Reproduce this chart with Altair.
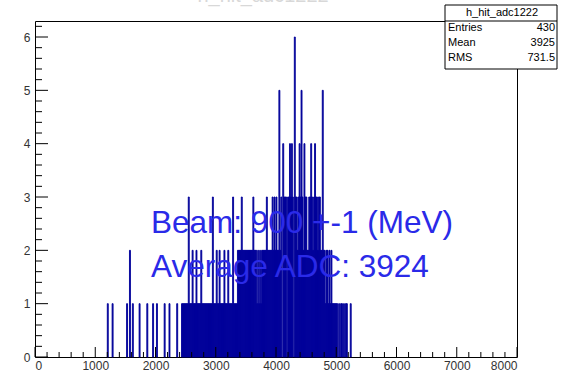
import altair as alt
import pandas as pd

# ---- data ----
bin_width = 16
first_bin = 74
counts = [
    0, 1, 0, 0, 0, 0, 1, 0, 0, 0, 0, 0, 0, 0, 0, 0,
    0, 0, 0, 0, 0, 1, 0, 0, 2, 0, 0, 1, 0, 0, 0, 0,
    0, 0, 1, 0, 0, 0, 0, 0, 0, 0, 1, 0, 0, 0, 0, 0,
    1, 0, 0, 0, 1, 0, 0, 0, 0, 0, 0, 0, 1, 0, 0, 0,
    0, 1, 0, 0, 0, 0, 0, 0, 0, 1, 0, 0, 0, 0, 1, 1,
    1, 1, 1, 1, 1, 3, 1, 1, 1, 2, 1, 1, 1, 2, 1, 1,
    1, 1, 2, 1, 1, 1, 1, 1, 1, 1, 1, 1, 1, 1, 3, 1,
    1, 1, 2, 1, 1, 2, 1, 1, 1, 1, 2, 1, 1, 1, 2, 1,
    1, 1, 1, 3, 1, 1, 1, 1, 2, 2, 2, 2, 3, 2, 2, 2,
    2, 2, 2, 2, 2, 2, 2, 2, 3, 2, 2, 2, 1, 2, 1, 2,
    1, 2, 2, 2, 2, 2, 3, 2, 2, 2, 2, 2, 3, 2, 3, 2,
    3, 2, 2, 5, 2, 3, 0, 4, 3, 3, 3, 0, 3, 3, 4, 3,
    4, 3, 0, 6, 3, 3, 2, 3, 4, 3, 5, 3, 2, 4, 3, 3,
    2, 2, 3, 3, 4, 3, 2, 3, 4, 3, 3, 2, 3, 3, 2, 2,
    5, 2, 2, 1, 2, 2, 1, 2, 1, 2, 1, 1, 1, 1, 1, 1,
    0, 1, 0, 1, 1, 0, 1, 0, 1, 1, 0, 0, 0, 1, 0, 0,
]
x_labels = [0, 1000, 2000, 3000, 4000, 5000, 6000, 7000, 8000]
y_labels = [0, 1, 2, 3, 4, 5, 6]
x_minor_ticks = [v for v in range(0, 8001, 200) if v % 1000]
y_minor_ticks = [round(k * 0.2, 1) for k in range(0, 32) if k % 5]
hist_name = "h_hit_adc1222"
stats_names = ["Entries", "Mean", "RMS"]
stats_values = ["430", "3925", "731.5"]
text_lines = ["Beam: 900 +-1 (MeV)", "Average ADC: 3924"]

# ---- tables ----
lo = [(first_bin + k) * bin_width for k in range(len(counts))]
hist = pd.DataFrame({"lo": lo, "hi": [v + bin_width for v in lo], "count": counts})
hist = hist[hist["count"] > 0]

FONT = "Liberation Sans"
BAR = "#00009a"
TXT = "#2a2ae8"

xs = alt.Scale(domain=[0, 8000], nice=False, zero=False)
ys = alt.Scale(domain=[0, 6.3], nice=False, zero=False)

bars = alt.Chart(hist).mark_bar(color=BAR, stroke=BAR, strokeWidth=0.9).encode(
    x=alt.X("lo:Q", scale=xs,
            axis=alt.Axis(values=x_labels, ticks=False, domain=False, grid=False,
                          title=None, labelFontSize=12, labelColor="#333333",
                          labelFont=FONT, labelPadding=3, format="d")),
    x2="hi:Q",
    y=alt.Y("count:Q", scale=ys,
            axis=alt.Axis(values=y_labels, ticks=False, domain=False, grid=False,
                          title=None, labelFontSize=12, labelColor="#333333",
                          labelFont=FONT, labelPadding=5, format="d")),
    y2=alt.datum(0),
)

xmaj = alt.Chart(pd.DataFrame({"v": x_labels})).mark_rule(color="black", strokeWidth=1).encode(
    x=alt.X("v:Q", scale=xs), y=alt.value(336), y2=alt.value(326))
xmin = alt.Chart(pd.DataFrame({"v": x_minor_ticks})).mark_rule(color="black", strokeWidth=1).encode(
    x=alt.X("v:Q", scale=xs), y=alt.value(336), y2=alt.value(331))
ymaj = alt.Chart(pd.DataFrame({"v": y_labels})).mark_rule(color="black", strokeWidth=1).encode(
    y=alt.Y("v:Q", scale=ys), x=alt.value(0), x2=alt.value(13))
ymin = alt.Chart(pd.DataFrame({"v": y_minor_ticks})).mark_rule(color="black", strokeWidth=1).encode(
    y=alt.Y("v:Q", scale=ys), x=alt.value(0), x2=alt.value(7))


def label(txt, x, y, size, color, align="left", baseline="alphabetic"):
    return alt.Chart(pd.DataFrame({"t": [txt]})).mark_text(
        font=FONT, fontSize=size, color=color, align=align, baseline=baseline).encode(
        x=alt.value(x), y=alt.value(y), text="t:N")


t1 = label(text_lines[0], 116, 212, 31.5, TXT)
t2 = label(text_lines[1], 116, 256, 31.5, TXT)
title = label(hist_name, 228, -19, 20, "#d8d8d8", align="center")

box = alt.Chart(pd.DataFrame({"a": [0]})).mark_rect(fill="white", stroke="black", strokeWidth=1).encode(
    x=alt.value(410), x2=alt.value(522), y=alt.value(-16), y2=alt.value(48))
sep = alt.Chart(pd.DataFrame({"a": [0]})).mark_rule(color="black", strokeWidth=1).encode(
    x=alt.value(410), x2=alt.value(522), y=alt.value(0))
head = label(hist_name, 467, -8, 11, "black", align="center", baseline="middle")
stat_layers = []
for k, (n, v) in enumerate(zip(stats_names, stats_values)):
    yy = 7 + 15 * k
    stat_layers.append(label(n, 413, yy, 11, "black", baseline="middle"))
    stat_layers.append(label(v, 520, yy, 11, "black", align="right", baseline="middle"))

chart = alt.layer(
    bars, xmaj, xmin, ymaj, ymin, t1, t2, title, box, sep, head, *stat_layers
).properties(
    width=482, height=336,
    padding={"left": 35, "top": 21, "right": 45, "bottom": 20},
    autosize=alt.AutoSizeParams(type="none"),
    background="white",
).configure_view(stroke="black", strokeWidth=1)

chart.save("out.html", embed_options={"renderer": "svg", "actions": False})
